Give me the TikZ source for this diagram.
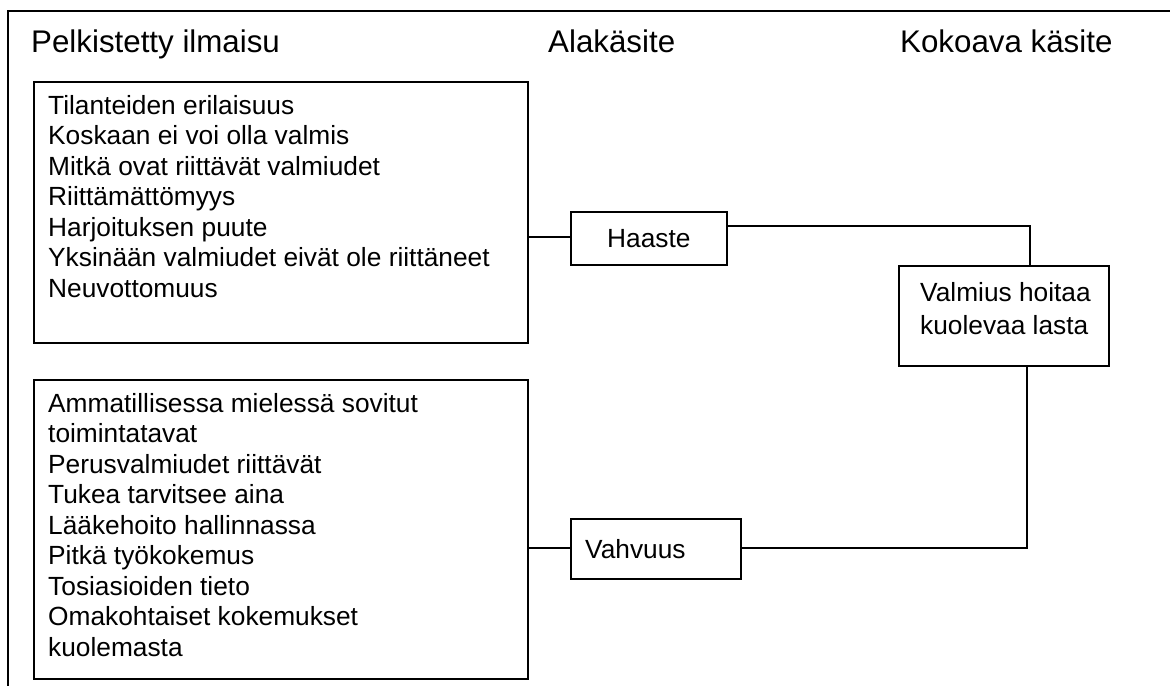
\documentclass[tikz,border=0pt]{standalone}
\usepackage{fontspec}
\setmainfont{Liberation Sans}
\begin{document}
\begin{tikzpicture}[x=1pt,y=-1pt,
  ln/.style={line width=1.8pt,black},
  box/.style={draw,ln,inner sep=0pt,anchor=north west},
  body/.style={font=\fontsize{26.3}{30.5}\selectfont,inner sep=0pt},
  head/.style={font=\fontsize{31.3}{36}\selectfont,inner sep=0pt,anchor=base west}]
\useasboundingbox (0,0) rectangle (1170,686);
% frame
\coordinate (ftl) at (8,11);
\coordinate (ftr) at (1170,11);
\coordinate (fbl) at (8,686);
\draw[ln] (ftr) -- (ftl) -- (fbl);
% headings
\node[head] (h1) at (31,52) {Pelkistetty ilmaisu};
\node[head] (h2) at (548,52) {Alakäsite};
\node[head] (h3) at (900,52) {Kokoava käsite};
% left boxes
\node[box,minimum width=494,minimum height=261] (b1) at (33,81) {};
\node[body,anchor=base west] (t1) at (48,114) {\parbox[t]{470pt}{\raggedright
Tilanteiden erilaisuus\\
Koskaan ei voi olla valmis\\
Mitkä ovat riittävät valmiudet\\
Riittämättömyys\\
Harjoituksen puute\\
Yksinään valmiudet eivät ole riittäneet\\
Neuvottomuus}};
\node[box,minimum width=494,minimum height=299] (b2) at (33,379) {};
\node[body,anchor=base west] (t2) at (48,412) {\parbox[t]{470pt}{\raggedright
Ammatillisessa mielessä sovitut\\
toimintatavat\\
Perusvalmiudet riittävät\\
Tukea tarvitsee aina\\
Lääkehoito hallinnassa\\
Pitkä työkokemus\\
Tosiasioiden tieto\\
Omakohtaiset kokemukset\\
kuolemasta}};
% middle boxes
\node[box,minimum width=156,minimum height=53] (haaste) at (570,211) {};
\node[body] (thaaste) at (haaste.center) {Haaste};
\node[box,minimum width=170,minimum height=60] (vahvuus) at (570,518) {};
\node[body,anchor=base west] (tvahvuus) at (585,558) {Vahvuus};
% right box
\node[box,minimum width=210,minimum height=100] (valmius) at (898,265) {};
\node[body,anchor=base west] (tvalmius) at (920,301) {\parbox[t]{200pt}{\raggedright\fontsize{26.3}{33}\selectfont
Valmius hoitaa\\
kuolevaa lasta}};
% connectors
\coordinate (c1) at (527,237);
\draw[ln] (c1) -- (haaste.west |- c1);
\coordinate (c2) at (1030,226);
\draw[ln] (haaste.east |- c2) -- (c2) -- (valmius.north -| c2);
\coordinate (c3) at (1027,548);
\draw[ln] (valmius.south -| c3) -- (c3) -- (vahvuus.east |- c3);
\coordinate (c4) at (527,548);
\draw[ln] (c4) -- (vahvuus.west |- c4);
\end{tikzpicture}
\end{document}
